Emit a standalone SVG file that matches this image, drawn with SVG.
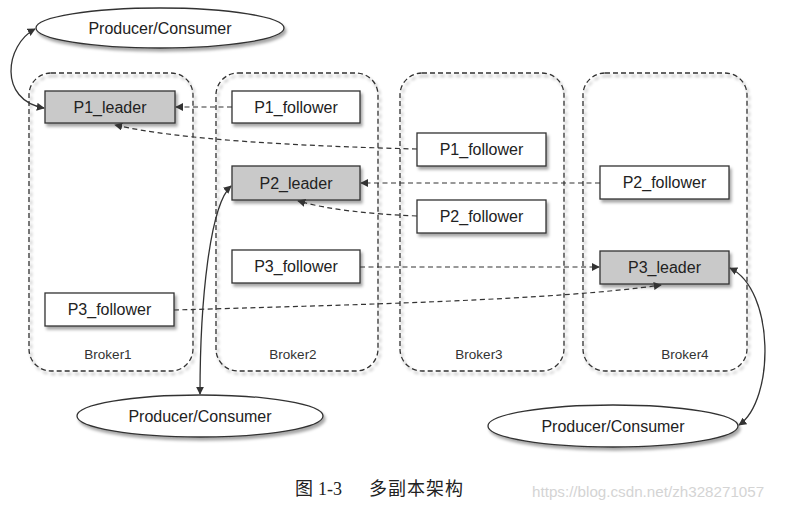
<svg xmlns="http://www.w3.org/2000/svg" width="797" height="514" viewBox="0 0 797 514">
<style>
.broker{fill:none;stroke:#333;stroke-width:1.3;stroke-dasharray:5,3}
.node{stroke:#333;stroke-width:1.3;fill:#fff}
.leader{fill:#c9c9c9}
.ell{fill:#fff;stroke:#333;stroke-width:1.3}
.t{font-family:"Liberation Sans",Arial,sans-serif;font-size:16px;fill:#222;text-anchor:middle}
.bl{font-family:"Liberation Sans",Arial,sans-serif;font-size:13.5px;fill:#333;text-anchor:middle}
.dash{fill:none;stroke:#333;stroke-width:1.2;stroke-dasharray:5,3.5}
.solid{fill:none;stroke:#333;stroke-width:1.3}
.cap{font-family:"Noto Sans CJK SC",sans-serif;font-size:18px;fill:#222}
</style>
<defs>
<marker id="ah" viewBox="0 0 10 10" refX="9" refY="5" markerWidth="8" markerHeight="8" orient="auto-start-reverse" markerUnits="userSpaceOnUse">
<path d="M0,0 L10,5 L0,10 z" fill="#333"/>
</marker>
<filter id="sh" x="-10%" y="-10%" width="130%" height="140%">
<feDropShadow dx="2" dy="3" stdDeviation="1.5" flood-color="#000" flood-opacity="0.35"/>
</filter>
</defs>
<rect width="797" height="514" fill="#fff"/>

<g id="broker1"><rect class="broker" x="29" y="73" width="164" height="298" rx="22" filter="url(#sh)"/><text class="bl" x="108" y="359">Broker1</text></g>
<g id="broker2"><rect class="broker" x="216" y="73" width="162" height="298" rx="22" filter="url(#sh)"/><text class="bl" x="293" y="359">Broker2</text></g>
<g id="broker3"><rect class="broker" x="400" y="73" width="164" height="298" rx="22" filter="url(#sh)"/><text class="bl" x="479" y="359">Broker3</text></g>
<g id="broker4"><rect class="broker" x="583" y="73" width="164" height="298" rx="22" filter="url(#sh)"/><text class="bl" x="685" y="359">Broker4</text></g>

<g id="p1_leader"><rect class="node leader" x="45" y="91" width="130" height="32" filter="url(#sh)"/><text class="t" x="110" y="113">P1_leader</text></g>
<g id="p1_follower_b2"><rect class="node" x="232" y="91" width="128" height="32" filter="url(#sh)"/><text class="t" x="296" y="113">P1_follower</text></g>
<g id="p1_follower_b3"><rect class="node" x="417" y="133" width="129" height="33" filter="url(#sh)"/><text class="t" x="481.5" y="155">P1_follower</text></g>
<g id="p2_leader"><rect class="node leader" x="232" y="166" width="128" height="34" filter="url(#sh)"/><text class="t" x="296" y="189">P2_leader</text></g>
<g id="p2_follower_b4"><rect class="node" x="600" y="166" width="129" height="33" filter="url(#sh)"/><text class="t" x="664.5" y="188">P2_follower</text></g>
<g id="p2_follower_b3"><rect class="node" x="417" y="200" width="129" height="33" filter="url(#sh)"/><text class="t" x="481.5" y="222">P2_follower</text></g>
<g id="p3_follower_b2"><rect class="node" x="232" y="250" width="128" height="33" filter="url(#sh)"/><text class="t" x="296" y="272">P3_follower</text></g>
<g id="p3_follower_b1"><rect class="node" x="45" y="293" width="129" height="33" filter="url(#sh)"/><text class="t" x="109.5" y="315">P3_follower</text></g>
<g id="p3_leader"><rect class="node leader" x="600" y="251" width="129" height="33" filter="url(#sh)"/><text class="t" x="664.5" y="273">P3_leader</text></g>

<g id="pc_top"><ellipse class="ell" cx="160" cy="28" rx="124" ry="20" filter="url(#sh)"/><text class="t" x="160" y="34">Producer/Consumer</text></g>
<g id="pc_bottom_left"><ellipse class="ell" cx="200" cy="416" rx="123" ry="21" filter="url(#sh)"/><text class="t" x="200" y="422">Producer/Consumer</text></g>
<g id="pc_bottom_right"><ellipse class="ell" cx="613" cy="426" rx="125" ry="21" filter="url(#sh)"/><text class="t" x="613" y="432">Producer/Consumer</text></g>

<g id="connectors">
<path class="solid" d="M35,29 C5,45 -2,100 44,108" marker-start="url(#ah)" marker-end="url(#ah)"/>
<path class="dash" d="M232,107 L176,107" marker-end="url(#ah)"/>
<path class="dash" d="M417,149 C300,146 180,140 115,125" marker-end="url(#ah)"/>
<path class="dash" d="M600,183 L361,183" marker-end="url(#ah)"/>
<path class="dash" d="M417,216 C370,214 330,210 298,201" marker-end="url(#ah)"/>
<path class="dash" d="M360,267 L599,267" marker-end="url(#ah)"/>
<path class="dash" d="M174,310 C350,305 560,300 661,285" marker-end="url(#ah)"/>
<path class="solid" d="M231,186 C210,205 200,300 200,394" marker-start="url(#ah)" marker-end="url(#ah)"/>
<path class="solid" d="M730,268 C775,290 775,400 739,425" marker-start="url(#ah)" marker-end="url(#ah)"/>
</g>

<g id="caption">
<text class="cap" x="295" y="495">图</text>
<text x="318" y="495" font-family="'Liberation Serif',serif" font-size="18" fill="#222">1-3</text>
<text class="cap" x="369" y="495" letter-spacing="1">多副本架构</text>
</g>
<text x="532" y="497" font-family="'Liberation Sans',Arial,sans-serif" font-size="15.2" fill="#d4d4d4">https://blog.csdn.net/zh328271057</text>
</svg>
